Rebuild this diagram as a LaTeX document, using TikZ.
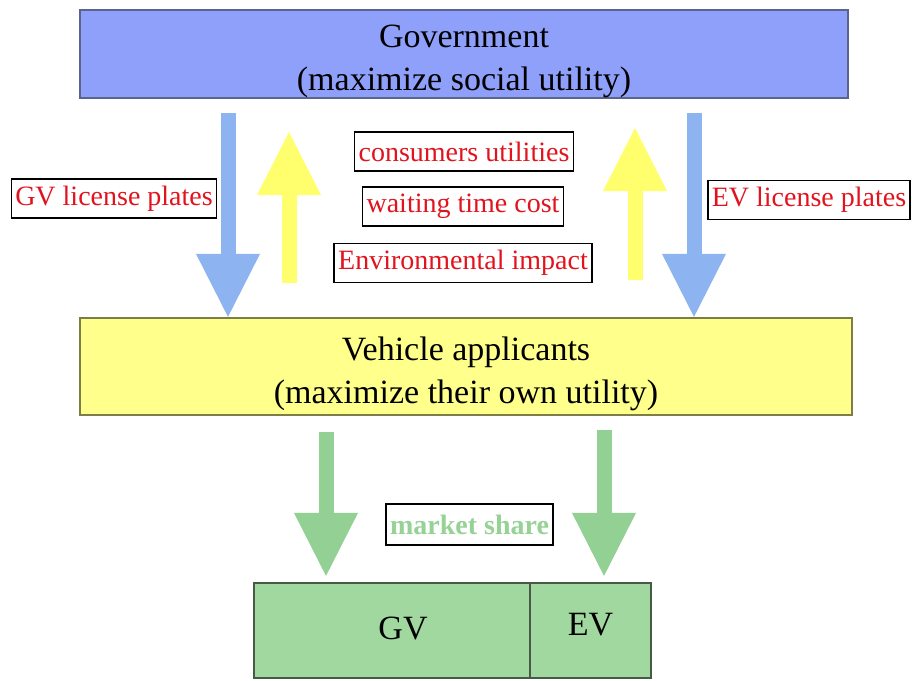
\documentclass[tikz,border=0pt]{standalone}
\usepackage{fontspec}
\setmainfont{Liberation Serif}
\usetikzlibrary{arrows.meta}

\definecolor{govfill}{RGB}{143,160,250}
\definecolor{govline}{RGB}{90,100,140}
\definecolor{appfill}{RGB}{255,255,140}
\definecolor{appline}{RGB}{125,125,70}
\definecolor{mktfill}{RGB}{160,216,160}
\definecolor{mktline}{RGB}{70,90,70}
\definecolor{platearrow}{RGB}{141,180,240}
\definecolor{costarrow}{RGB}{255,255,110}
\definecolor{sharearrow}{RGB}{146,208,148}
\definecolor{labelred}{RGB}{225,20,30}
\definecolor{sharetext}{RGB}{150,210,150}

\newcommand{\toppad}{\rule{0pt}{38pt}}

\tikzset{
  bigbox/.style={draw, line width=2.2pt, minimum height=#1, inner sep=0pt,
    align=center, font=\fontsize{34}{43}\selectfont},
  tag/.style={draw=black, line width=1.5pt, fill=white, minimum height=39pt,
    inner xsep=4pt, inner ysep=0pt, text=labelred, font=\fontsize{28}{30}\selectfont},
  fat/.style={line width=15pt, draw=#1,
    -{Triangle[width=64pt,length=63pt,line width=0pt]}}
}

\begin{document}
\begin{tikzpicture}[x=1pt,y=-1pt]
  \useasboundingbox (0,0) rectangle (912,680);

  % Government (top)
  \node[bigbox=88pt, minimum width=768pt, fill=govfill, draw=govline] (gov) at (464,54)
    {\toppad Government\\(maximize social utility)};

  % Vehicle applicants (middle)
  \node[bigbox=97pt, minimum width=772pt, fill=appfill, draw=appline] (veh) at (466,366.5)
    {\toppad Vehicle applicants\\(maximize their own utility)};

  % market share bar (bottom)
  \node[bigbox=95pt, minimum width=276pt, fill=mktfill, draw=mktline] (gvbar) at (392,630.5)
    {\hspace{22pt}GV\rule[-5pt]{0pt}{0pt}};
  \node[bigbox=95pt, minimum width=121pt, fill=mktfill, draw=mktline, anchor=west] (evbar)
    at ([xshift=-2.2pt]gvbar.east) {EV\rule[-13pt]{0pt}{0pt}};

  % labels
  \node[tag] (gvplate) at (114,198.5) {GV license plates};
  \node[tag] (evplate) at (809,200) {EV license plates};
  \node[tag] (cons) at (464,151.5) {consumers utilities};
  \node[tag] (wait) at (463,206.5) {waiting time cost};
  \node[tag] (env) at (463,263) {Environmental impact};
  \node[tag, minimum height=41pt, text=sharetext, font=\fontsize{28}{30}\selectfont\bfseries]
    (share) at (469.5,524.5) {market share};

  % arrow starts
  \coordinate (gvdown) at (228,113);
  \coordinate (evdown) at (694,113);
  \coordinate (gvup) at (289,283);
  \coordinate (evup) at (635,280);
  \coordinate (gvshare) at (326,432);
  \coordinate (evshare) at (604,430);

  % license plates: government -> applicants
  \draw[fat=platearrow] (gvdown) -- (gvdown |- veh.north);
  \draw[fat=platearrow] (evdown) -- (evdown |- veh.north);

  % feedback: applicants -> government
  \draw[fat=costarrow] (gvup) -- ++(0,-151);
  \draw[fat=costarrow] (evup) -- ++(0,-152);

  % market share
  \draw[fat=sharearrow] (gvshare) -- ([yshift=6pt]gvshare |- gvbar.north);
  \draw[fat=sharearrow] (evshare) -- ([yshift=6pt]evshare |- evbar.north);
\end{tikzpicture}
\end{document}
